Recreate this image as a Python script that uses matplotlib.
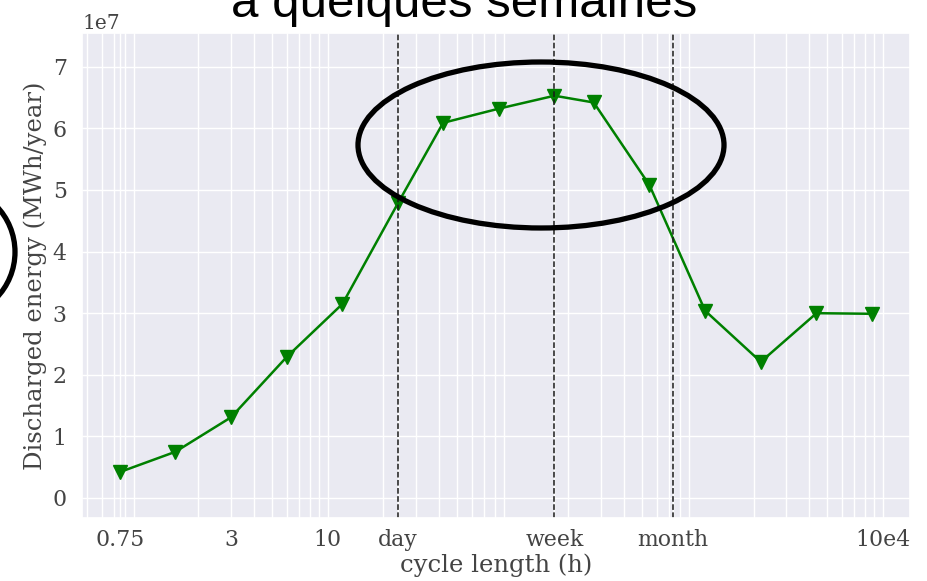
import numpy as np
import matplotlib
matplotlib.use("Agg")
import matplotlib.pyplot as plt
import seaborn as sns
from matplotlib.patches import Ellipse

# longueur de cycle (h) et énergie déchargée (MWh/an)
cycle_h = [0.75, 1.5, 3, 6, 12, 24, 42, 84, 168, 273.75, 547.5, 1095, 2190, 4380, 8760]
energie = [0.42e7, 0.75e7, 1.31e7, 2.29e7, 3.15e7, 4.79e7, 6.09e7, 6.32e7, 6.53e7,
           6.42e7, 5.08e7, 3.04e7, 2.21e7, 3.00e7, 2.99e7]

reperes = [24, 168, 730]  # jour, semaine, mois
ticks_x = [0.75, 3, 10, 24, 168, 730, 1e4]
ticks_lbl = ['0.75', '3', '10', 'day', 'week', 'month', '10e4']

sns.set_theme(style='darkgrid')
plt.rcParams['font.family'] = ['DejaVu Serif']

fig = plt.figure(figsize=(9.28, 5.81), dpi=100)
ax = fig.add_axes([0.0884, 0.1084, 0.892, 0.835])

ax.plot(cycle_h, energie, color='green', marker='v', markersize=10, lw=1.8)
for r in reperes:
    ax.axvline(r, color='k', ls='--', lw=1.1)

ax.set_xscale('log')
ax.set_xticks(ticks_x)
ax.set_xticklabels(ticks_lbl)
ax.set_ylim(-0.325e7, 7.55e7)
ax.grid(True, which='both', color='white', lw=1.0)
ax.tick_params(labelsize=15.8, colors='#444444', pad=5)
ax.tick_params(axis='x', pad=2)
ax.yaxis.get_offset_text().set_fontsize(14.5)
ax.yaxis.get_offset_text().set_color('#444444')
ax.set_xlabel('cycle length (h)', fontsize=17.5, color='#444444', labelpad=2)
ax.set_ylabel('Discharged energy (MWh/year)', fontsize=17.5, color='#444444', labelpad=4)

# annotations de la diapo
fig.text(0.5, 1 - 17 / 581, 'à quelques semaines', ha='center', va='baseline',
         fontsize=35.5, family=['Liberation Sans', 'DejaVu Sans'], color='black')
fig.add_artist(Ellipse((541 / 928, 1 - 145 / 581), 366 / 928, 166 / 581,
                       transform=fig.transFigure, fill=False, ec='black', lw=3.8))
fig.add_artist(Ellipse((-51 / 928, 1 - 252 / 581), 132 / 928, 132 / 581,
                       transform=fig.transFigure, fill=False, ec='black', lw=3.8))

fig.savefig('out.png', dpi=100)
